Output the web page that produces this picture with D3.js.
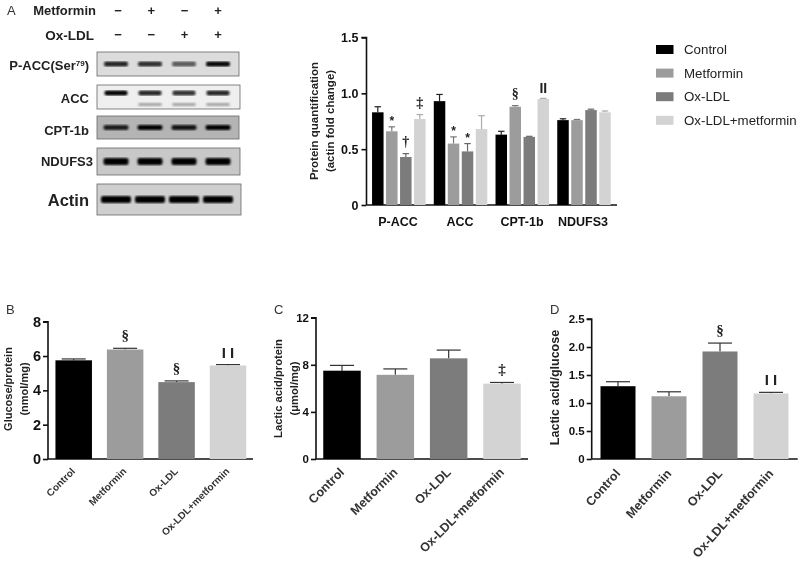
<!DOCTYPE html>
<html><head><meta charset="utf-8">
<script src="https://d3js.org/d3.v7.min.js"></script>
<style>html,body{margin:0;background:#fff}svg{display:block;filter:blur(.45px)}text{font-family:"Liberation Sans",Arial,sans-serif}</style>
</head><body><svg id="c" width="800" height="567"></svg>
<script>
const groupNames=["Control","Metformin","Ox-LDL","Ox-LDL+metformin"];
const colors=["#000000","#9c9c9c","#7c7c7c","#d3d3d3"];
const errColorsA=["#222222","#777777","#666666","#aaaaaa"];
const proteins=["P-ACC","ACC","CPT-1b","NDUFS3"];
const valuesA=[[.83,.66,.43,.77],[.93,.55,.48,.68],[.63,.88,.61,.95],[.76,.76,.85,.83]];
const errorsA=[[.05,.04,.03,.04],[.06,.06,.07,.12],[.03,.01,.005,.005],[.012,.006,.008,.012]];
const marksA=[["","*","†","‡"],["","*","*",""],["","§","","II"],["","","",""]];
const valuesB=[5.75,6.38,4.48,5.45],errorsB=[.08,.07,.07,.05],marksB=["","§","§","I I"];
const valuesC=[7.5,7.15,8.55,6.4],errorsC=[.45,.5,.7,.1],marksC=["","","","‡"];
const valuesD=[1.3,1.12,1.92,1.17],errorsD=[.08,.08,.15,.02],marksD=["","","§","I I"];
const blotNames=["P-ACC(Ser","ACC","CPT-1b","NDUFS3","Actin"];
const blotBands=[[.85,.8,.6,.98],[1,.85,.8,.85],[.85,1,.9,1],[1,1,1,1],[1,1,1,1]];
const blotBg=["#dcdcdc","#efefef","#b4b4b4","#c8c8c8","#cfcfcf"];
const metformin=["−","+","−","+"],oxldl=["−","−","+","+"];

const svg=d3.select("#c");
const defs=svg.append("defs");
defs.append("filter").attr("id","soft").append("feGaussianBlur").attr("stdDeviation",.8);

function panelLetter(t,x,y){svg.append("text").attr("x",x).attr("y",y).attr("font-size",13).attr("fill","#333").text(t)}
panelLetter("A",7,15);panelLetter("B",6,314);panelLetter("C",274,314);panelLetter("D",550,314);

function yAxisDraw(g,y,ticks,fmt,fs,x,x1,pad){
  const ax=g.append("g").attr("transform",`translate(${x},0)`).call(d3.axisLeft(y).tickValues(ticks).tickFormat(fmt).tickSize(5).tickPadding(pad));
  ax.selectAll("path,line").attr("stroke","#111").attr("stroke-width",1.6);
  ax.select(".domain").attr("d",`M-5,${y.range()[1]}H0V${y.range()[0]}`);
  ax.selectAll("text").attr("font-size",fs).attr("font-weight","bold").attr("fill","#111").style("font-family",'"Liberation Sans",Arial,sans-serif');
  g.append("line").attr("x1",x).attr("x2",x1).attr("y1",y(0)).attr("y2",y(0)).attr("stroke","#111").attr("stroke-width",1.6);
}
function bar(g,cx,w,v,e,y,c,ec,capW){
  g.append("line").attr("x1",cx).attr("x2",cx).attr("y1",y(v)).attr("y2",y(v+e)).attr("stroke",ec).attr("stroke-width",1.2);
  g.append("line").attr("x1",cx-capW/2).attr("x2",cx+capW/2).attr("y1",y(v+e)).attr("y2",y(v+e)).attr("stroke",ec).attr("stroke-width",1.2);
  g.append("rect").attr("x",cx-w/2).attr("width",w).attr("y",y(v)).attr("height",y(0)-y(v)).attr("fill",c);
}
function mark(g,m,cx,top,size){
  const sans=m==="*"||m==="II"||m==="I I";
  const off=m==="*"?2:m==="II"?5:m==="I I"?7:8;
  g.append("text").attr("x",cx).attr("y",top-off).attr("text-anchor","middle")
   .attr("font-size",m==="*"?12:size).attr("font-weight","bold").attr("fill","#222")
   .style("font-family",sans?"Liberation Sans":"Liberation Serif").text(m);
}

/* Panel A chart */
{
  const g=svg.append("g");
  const y=d3.scaleLinear().domain([0,1.5]).range([205,37.5]);
  const x0=d3.scalePoint().domain(proteins).range([398.8,584]);
  const x1=d3.scalePoint().domain(d3.range(4)).range([-21,21]);
  yAxisDraw(g,y,[0,.5,1,1.5],d=>d===0?"0":d3.format(".1f")(d),12.5,366.5,617,3);
  proteins.forEach((p,i)=>{
    valuesA[i].forEach((v,j)=>{
      const cx=x0(p)+x1(j);
      bar(g,cx,11.5,v,errorsA[i][j],y,colors[j],errColorsA[j],6.5);
      if(marksA[i][j]) mark(g,marksA[i][j],cx,y(v+errorsA[i][j]),14);
    });
    g.append("text").attr("x",[398,460,522,583][i]).attr("y",226).attr("text-anchor","middle").attr("font-size",12.5).attr("font-weight","bold").attr("fill","#111").text(p);
  });
  g.append("text").attr("transform","translate(318,121) rotate(-90)").attr("text-anchor","middle").attr("font-size",11.5).attr("font-weight","bold").attr("fill","#222").text("Protein quantification");
  g.append("text").attr("transform","translate(334,121) rotate(-90)").attr("text-anchor","middle").attr("font-size",11.5).attr("font-weight","bold").attr("fill","#222").text("(actin fold change)");
  const leg=svg.append("g");
  groupNames.forEach((n,i)=>{
    const ly=49.5+i*23.6;
    leg.append("rect").attr("x",656).attr("y",ly-4.5).attr("width",17.5).attr("height",9).attr("fill",colors[i]);
    leg.append("text").attr("x",684).attr("y",ly+4.5).attr("font-size",13.3).attr("fill","#222").text(n);
  });
}

/* Blots */
{
  const g=svg.append("g");
  const frames=[[97,52,142,24],[97,85,143,24],[97,116,142,23],[97,148,143,27],[97,184,144,31]];
  const bandX=d3.scalePoint().domain(d3.range(4)).range([116,218]);
  const bandH=[5,5,5,7,7];
  const bandW=[24,23,25,25,30];
  blotNames.forEach((n,i)=>{
    const [fx,fy,fw,fh]=frames[i];
    g.append("rect").attr("x",fx).attr("y",fy).attr("width",fw).attr("height",fh).attr("fill",blotBg[i]).attr("stroke","#666").attr("stroke-width",.8);
    blotBands[i].forEach((b,j)=>{
      g.append("rect").attr("x",bandX(j)-bandW[i]/2).attr("y",fy+fh/2-bandH[i]/2-(i===1?4:0)).attr("width",bandW[i]).attr("height",bandH[i]).attr("rx",2)
       .attr("fill","#000").attr("opacity",b).attr("filter","url(#soft)");
      if(i===1&&j>0) g.append("rect").attr("x",bandX(j)-bandW[i]/2).attr("y",fy+18).attr("width",bandW[i]).attr("height",3)
       .attr("fill","#333").attr("opacity",.4).attr("filter","url(#soft)");
    });
  });
  const labels=[[89,70,13],[89,103,13],[89,135,13],[93,166,13],[89,206,16.5]];
  blotNames.forEach((n,i)=>{
    const t=g.append("text").attr("x",labels[i][0]).attr("y",labels[i][1]).attr("text-anchor","end").attr("font-size",labels[i][2]).attr("font-weight","bold").attr("fill","#222");
    if(i===0){t.append("tspan").text(n);t.append("tspan").attr("font-size",8).attr("dy",-4).text("79");t.append("tspan").attr("dy",4).text(")");}
    else t.text(n);
  });
  const hx=d3.scalePoint().domain(d3.range(4)).range([118,218]);
  g.append("text").attr("x",96).attr("y",15).attr("text-anchor","end").attr("font-size",13).attr("font-weight","bold").attr("fill","#222").text("Metformin");
  g.append("text").attr("x",94).attr("y",40).attr("text-anchor","end").attr("font-size",13.5).attr("font-weight","bold").attr("fill","#222").text("Ox-LDL");
  metformin.forEach((s,j)=>g.append("text").attr("x",hx(j)).attr("y",15).attr("text-anchor","middle").attr("font-size",13).attr("font-weight","bold").attr("fill","#222").text(s));
  oxldl.forEach((s,j)=>g.append("text").attr("x",hx(j)).attr("y",39).attr("text-anchor","middle").attr("font-size",13).attr("font-weight","bold").attr("fill","#222").text(s));
}

/* Lower panels */
function lower(o){
  const g=svg.append("g");
  const y=d3.scaleLinear().domain([0,o.max]).range([459,o.top]);
  const x=d3.scalePoint().domain(groupNames).range([o.first,o.last]);
  yAxisDraw(g,y,o.ticks,o.fmt,o.fs,o.ax,o.end,2);
  groupNames.forEach((n,i)=>{
    const cx=x(n);
    bar(g,cx,o.w,o.vals[i],o.errs[i],y,colors[i],"#333333",o.cap);
    g.append("text").attr("transform",`translate(${cx+o.lx},${o.ly}) rotate(${o.rot})`).attr("text-anchor","end").attr("font-size",o.lf).attr("font-weight",o.lw).attr("fill","#333").text(n);
    if(o.marks[i]) mark(g,o.marks[i],cx,y(o.vals[i]+o.errs[i]),15);
  });
  o.title.forEach((t,i)=>g.append("text").attr("transform",`translate(${o.tx+i*16},${o.ty}) rotate(-90)`).attr("text-anchor","middle").attr("font-size",o.tf).attr("font-weight","bold").attr("fill","#222").text(t));
}
lower({max:8,top:321.7,ticks:[0,2,4,6,8],fmt:d3.format("d"),fs:14.5,ax:48,end:253,first:73.7,last:228,w:36.5,cap:24,vals:valuesB,errs:errorsB,marks:marksB,lx:2,ly:472,rot:-45,lf:10,lw:"bold",title:["Glucose/protein","(nmol/mg)"],tx:12,ty:389,tf:11});
lower({max:12,top:317.7,ticks:[0,4,8,12],fmt:d3.format("d"),fs:11.5,ax:316,end:528,first:342,last:502,w:37.5,cap:24,vals:valuesC,errs:errorsC,marks:marksC,lx:3,ly:473,rot:-45,lf:12.5,lw:"bold",title:["Lactic acid/protein","(μmol/mg)"],tx:282,ty:388.5,tf:11.2});
lower({max:2.5,top:319,ticks:[0,.5,1,1.5,2,2.5],fmt:d3.format(".1f"),fs:11.5,ax:591.7,end:797.7,first:618,last:771,w:35,cap:24,vals:valuesD,errs:errorsD,marks:marksD,lx:3,ly:474,rot:-48,lf:12.5,lw:"bold",title:["Lactic acid/glucose"],tx:559,ty:387.5,tf:12.5});
svg.selectAll(".tick text").filter(function(){return this.textContent==="0.0"}).text("0");
</script></body></html>
